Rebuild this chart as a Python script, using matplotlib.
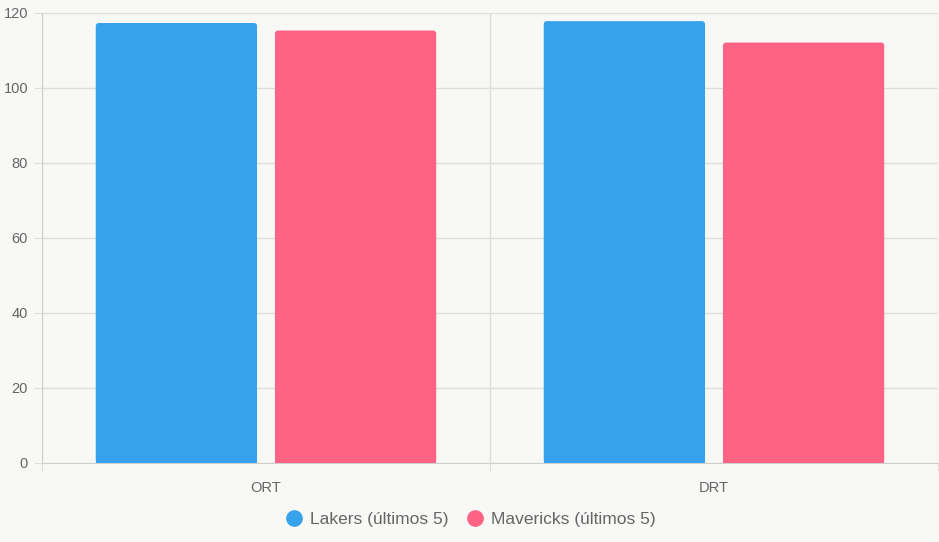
import numpy as np
import matplotlib
matplotlib.use("Agg")
import matplotlib.pyplot as plt
from matplotlib.lines import Line2D
from matplotlib.patches import FancyBboxPatch

categories = ["ORT", "DRT"]
lakers = [117.2, 117.7]
mavericks = [115.2, 112.0]
series_names = ["Lakers (últimos 5)", "Mavericks (últimos 5)"]
y_ticks = [0, 20, 40, 60, 80, 100, 120]

blue = "#36A2EB"
pink = "#FF6384"
bg = "#F8F8F6"
grid_c = "#DEDEDC"
text_c = "#666666"

plt.rcParams["font.family"] = ["Liberation Sans", "DejaVu Sans"]

fig = plt.figure(figsize=(9.39, 5.42), dpi=100, facecolor=bg)
ax = fig.add_axes([42 / 939, (542 - 463) / 542, 896 / 939, 450.5 / 542])
ax.set_facecolor(bg)

x = np.arange(len(categories))
w = 0.36
ax.set_xlim(-0.5, len(categories) - 0.5)
ax.set_ylim(0, 120)

# rounded top corners like chart.js (radius ~3px)
px_x = (len(categories)) / 896
px_y = 120 / 450.5
for vals, off, col in ((lakers, -0.2, blue), (mavericks, 0.2, pink)):
    bars = ax.bar(x + off, vals, w, color=col, zorder=3)
    for b in bars:
        b.set_visible(False)
        bx, by = b.get_x(), b.get_y()
        bw, bh = b.get_width(), b.get_height()
        ax.add_patch(FancyBboxPatch((bx, by), bw, bh,
                                    boxstyle=f"round,pad=0,rounding_size={3 * px_x}",
                                    mutation_aspect=px_y / px_x,
                                    facecolor=col, edgecolor="none", zorder=3))
        ax.add_patch(plt.Rectangle((bx, by), bw, bh / 2, facecolor=col,
                                   edgecolor="none", zorder=3))

ax.set_yticks(y_ticks)
ax.set_xticks(np.arange(len(categories) + 1) - 0.5)
ax.set_xticklabels([])
ax.set_xticks(x, minor=True)
ax.set_xticklabels(categories, minor=True)
ax.tick_params(axis="x", which="minor", length=0, pad=13, labelsize=10.5, colors=text_c)
ax.tick_params(axis="x", which="major", length=6, color=grid_c)
ax.tick_params(axis="y", length=6, pad=4, labelsize=10.5, colors=text_c, color=grid_c)

ax.grid(True, which="major", color=grid_c, linewidth=1, zorder=0)
for side in ["top", "right"]:
    ax.spines[side].set_visible(False)
for side in ["left", "bottom"]:
    ax.spines[side].set_color("#CFCFCD")

handles = [Line2D([0], [0], marker="o", linestyle="", markersize=11,
                  markerfacecolor=c, markeredgecolor=c) for c in (blue, pink)]
fig.legend(handles, series_names, loc="center", bbox_to_anchor=(0.5, 1 - 519 / 542),
           ncol=2, frameon=False, fontsize=12.5, labelcolor=text_c,
           handletextpad=0.35, columnspacing=0.9, handlelength=1.2)

fig.savefig("out.png", dpi=100, facecolor=bg)
